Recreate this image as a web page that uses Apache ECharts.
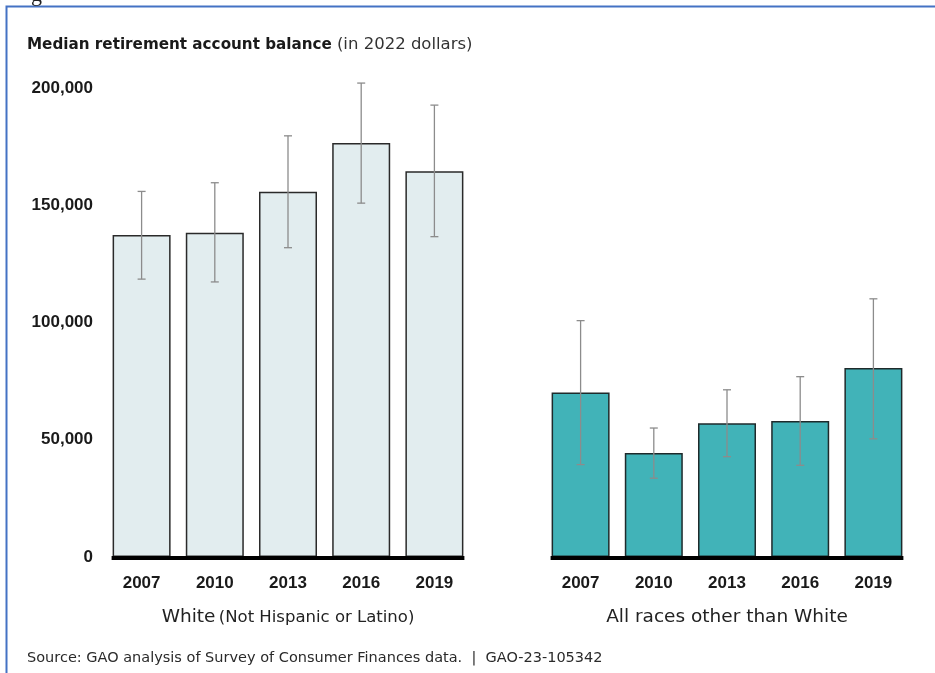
<!DOCTYPE html>
<html>
<head>
<meta charset="utf-8">
<style>
  html, body { margin: 0; padding: 0; background: #ffffff; }
  #chart { width: 935px; height: 673px; }
</style>
<script src="https://cdn.jsdelivr.net/npm/echarts@6/dist/echarts.min.js"></script>
</head>
<body>
<div id="chart"></div>
<script>
// ---- data ----
const categories = ['2007', '2010', '2013', '2016', '2019'];
const whiteMedian = [137300, 138300, 155800, 176500, 164500];
const whiteLow    = [118500, 117300, 131900, 150900, 136600];
const whiteHigh   = [155900, 159600, 179600, 202100, 192700];
const otherMedian = [70200, 44300, 57000, 58000, 80600];
const otherLow    = [39400, 33600, 42800, 39100, 50400];
const otherHigh   = [100800, 55000, 71300, 76900, 110100];
const yTickValues = [0, 50000, 100000, 150000, 200000];
const groupNames = ['White', 'All races other than White'];
const groupNotes = ['(Not Hispanic or Latino)', ''];
const titleMain = 'Median retirement account balance';
const titleNote = '(in 2022 dollars)';
const sourceText = 'Source: GAO analysis of Survey of Consumer Finances data.  |  GAO-23-105342';

// ---- styles ----
const BAR_W = 58;
const SANS = '"DejaVu Sans", sans-serif';
const NUM = '"Liberation Sans", Arial, sans-serif';

function fmt(v) {
  return String(v).replace(/\B(?=(\d{3})+(?!\d))/g, ',');
}

function errorSeries(gridIdx, low, high) {
  return {
    type: 'custom',
    xAxisIndex: gridIdx,
    yAxisIndex: gridIdx,
    clip: false,
    z: 5,
    data: categories.map((c, i) => [i, low[i], high[i]]),
    renderItem: function (params, api) {
      const lo = api.coord([api.value(0), api.value(1)]);
      const hi = api.coord([api.value(0), api.value(2)]);
      const cap = 4;
      const st = { stroke: '#8c8c8c', lineWidth: 1.3 };
      return {
        type: 'group',
        children: [
          { type: 'line', shape: { x1: hi[0], y1: hi[1], x2: lo[0], y2: lo[1] }, style: st },
          { type: 'line', shape: { x1: hi[0] - cap, y1: hi[1], x2: hi[0] + cap, y2: hi[1] }, style: st },
          { type: 'line', shape: { x1: lo[0] - cap, y1: lo[1], x2: lo[0] + cap, y2: lo[1] }, style: st }
        ]
      };
    }
  };
}

function baselineSeries(gridIdx) {
  return {
    type: 'custom',
    xAxisIndex: gridIdx,
    yAxisIndex: gridIdx,
    clip: false,
    z: 6,
    data: [[0, 0]],
    renderItem: function (params, api) {
      const a = api.coord([0, 0]);
      const b = api.coord([categories.length - 1, 0]);
      const half = BAR_W / 2 + 1;
      return {
        type: 'line',
        shape: { x1: a[0] - half, y1: a[1] + 1, x2: b[0] + half, y2: b[1] + 1 },
        style: { stroke: '#000000', lineWidth: 4 }
      };
    }
  };
}

function xAxisFor(gridIdx) {
  return {
    type: 'category',
    gridIndex: gridIdx,
    data: categories,
    axisLine: { show: false },
    axisTick: { show: false },
    axisLabel: { margin: 18, fontFamily: NUM, fontWeight: 'bold', fontSize: 17, color: '#1a1a1a' },
    name: groupNotes[gridIdx] ? '{a|' + groupNames[gridIdx] + '} {b|' + groupNotes[gridIdx] + '}' : '{a|' + groupNames[gridIdx] + '}',
    nameLocation: 'middle',
    nameGap: 51,
    nameTextStyle: {
      rich: {
        a: { fontFamily: SANS, fontSize: 18.5, color: '#222' },
        b: { fontFamily: SANS, fontSize: 16.5, color: '#222' }
      }
    }
  };
}

function yAxisFor(gridIdx) {
  return {
    type: 'value',
    gridIndex: gridIdx,
    min: yTickValues[0],
    max: yTickValues[yTickValues.length - 1],
    interval: yTickValues[1] - yTickValues[0],
    splitLine: { show: false },
    axisLine: { show: false },
    axisTick: { show: false },
    axisLabel: gridIdx === 0 ? {
      show: true, margin: 12, fontFamily: NUM, fontWeight: 'bold', fontSize: 17, color: '#1a1a1a',
      formatter: fmt
    } : { show: false }
  };
}

const chart = echarts.init(document.getElementById('chart'), null, { renderer: 'canvas' });

chart.setOption({
  animation: false,
  backgroundColor: '#ffffff',
  title: {
    text: '{b|' + titleMain + '} {n|' + titleNote + '}',
    left: 22,
    top: 31,
    textStyle: {
      rich: {
        b: { fontFamily: SANS, fontWeight: 'bold', fontSize: 15.2, color: '#1a1a1a' },
        n: { fontFamily: SANS, fontWeight: 'normal', fontSize: 16.5, color: '#333' }
      }
    }
  },
  graphic: [
    {
      type: 'rect',
      shape: { x: 6.5, y: 6.5, width: 1000, height: 1000 },
      style: { fill: 'none', stroke: '#4472C4', lineWidth: 2 },
      silent: true
    },
    {
      type: 'text',
      x: 31,
      y: 6,
      style: { text: 'g', fontFamily: '"Liberation Serif", serif', fontSize: 22, fill: '#222', verticalAlign: 'bottom' },
      silent: true
    },
    {
      type: 'text',
      left: 27,
      top: 651,
      style: { text: sourceText, fontFamily: SANS, fontSize: 14.5, fill: '#2a2a2a' }
    }
  ],
  grid: [
    { left: 105, width: 366, top: 88, bottom: 116 },
    { left: 544, width: 366, top: 88, bottom: 116 }
  ],
  xAxis: [xAxisFor(0), xAxisFor(1)],
  yAxis: [yAxisFor(0), yAxisFor(1)],
  series: [
    {
      type: 'bar',
      xAxisIndex: 0, yAxisIndex: 0,
      data: whiteMedian,
      barWidth: BAR_W,
      itemStyle: { color: '#E2EDEF', borderColor: '#2a2a2a', borderWidth: 1.5 },
      z: 2
    },
    errorSeries(0, whiteLow, whiteHigh),
    baselineSeries(0),
    {
      type: 'bar',
      xAxisIndex: 1, yAxisIndex: 1,
      data: otherMedian,
      barWidth: BAR_W,
      itemStyle: { color: '#41B3B8', borderColor: '#1e2a2b', borderWidth: 1.5 },
      z: 2
    },
    errorSeries(1, otherLow, otherHigh),
    baselineSeries(1)
  ]
});
</script>
</body>
</html>
